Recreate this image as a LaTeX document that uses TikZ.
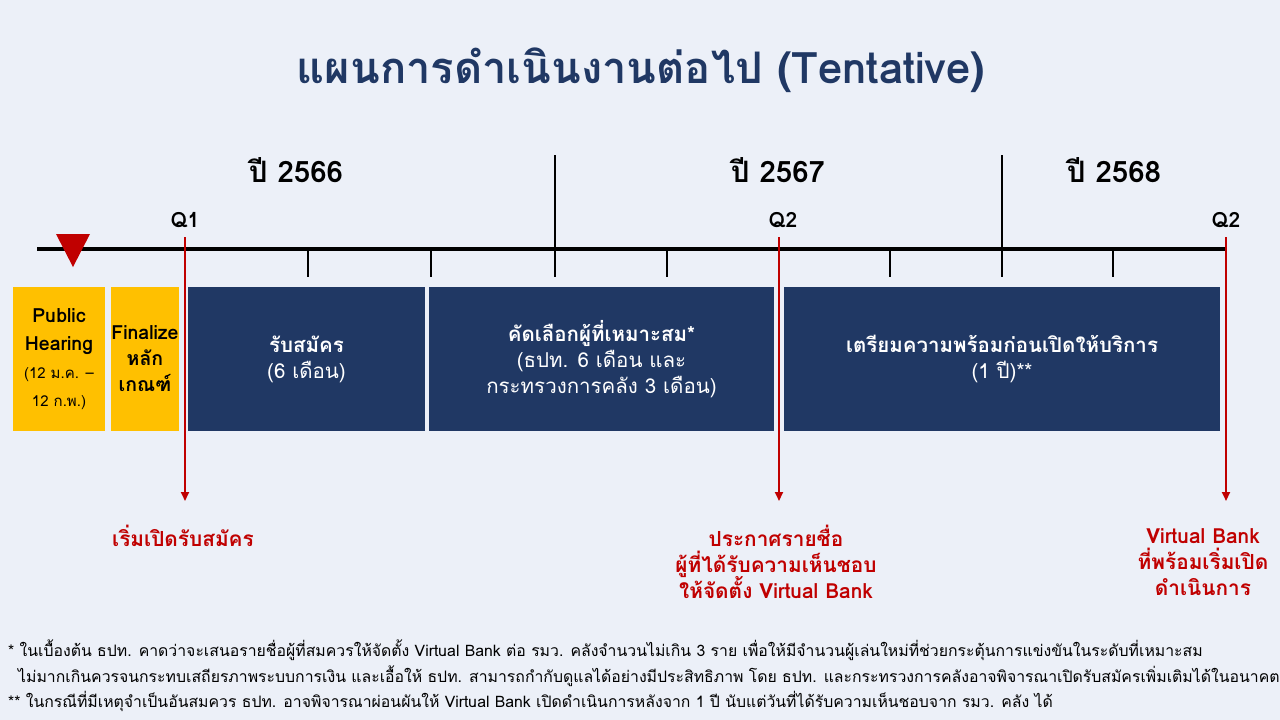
\documentclass[tikz,border=0pt]{standalone}
\usepackage{fontspec}
\setmainfont[Script=Thai]{Loma}
\usetikzlibrary{arrows.meta}
\definecolor{bgc}{RGB}{236,240,248}
\definecolor{navy}{RGB}{32,56,100}
\definecolor{gold}{RGB}{255,192,0}
\definecolor{darkred}{RGB}{192,0,0}
\newcommand{\tightlines}{\lineskiplimit=-20pt\lineskip=0pt}
\tikzset{
  yearlbl/.style={font=\bfseries\fontsize{29.5}{32}\selectfont, text=black},
  qlbl/.style={font=\bfseries\fontsize{21}{23}\selectfont, text=black},
  tick/.style={line width=1.6pt, black},
  goldbox/.style={fill=gold, inner sep=0pt, align=center, text=black},
  navybox/.style={fill=navy, inner sep=0pt, align=center, text=white, font=\tightlines\fontsize{20.5}{26}\selectfont},
  redlbl/.style={text=darkred, align=center, font=\tightlines\bfseries\fontsize{20.8}{26}\selectfont},
  redarrow/.style={darkred, line width=2pt, -{Triangle[length=9pt,width=8pt]}},
  foot/.style={anchor=west, inner sep=0pt, font=\fontsize{15.8}{18}\selectfont, text=black}
}
\begin{document}
\begin{tikzpicture}[x=1pt,y=-1pt]
\fill[bgc] (0,0) rectangle (1280,720);
\useasboundingbox (0,0) rectangle (1280,720);
% title
\node[font=\bfseries\fontsize{43.5}{46}\selectfont, text=navy] (title) at (641,70) {แผนการดำเนินงานต่อไป (Tentative)};
% years
\node[yearlbl] (y66) at (296,170) {ปี 2566};
\node[yearlbl] (y67) at (778,170) {ปี 2567};
\node[yearlbl] (y68) at (1114,170) {ปี 2568};
% timeline
\coordinate (tl0) at (37,249);
\coordinate (tl1) at (1226,249);
\draw[line width=3.5pt, black] (tl0) -- (tl1);
\foreach \x in {308,431,667,890,1113} \draw[tick] (\x,249) -- (\x,277);
\draw[tick] (555,155) -- (555,277);
\draw[tick] (1002,155) -- (1002,277);
% triangle marker
\fill[darkred] (56,234) -- (90,234) -- (73,267) -- cycle;
% Q labels
\node[qlbl] (q1) at (185,220) {Q1};
\node[qlbl] (q2a) at (783,220) {Q2};
\node[qlbl] (q2b) at (1226,220) {Q2};
% boxes
\node[goldbox, minimum width=92pt, minimum height=144pt, font=\tightlines\bfseries\fontsize{19.5}{28}\selectfont] (ph) at (59,359) {Public\\Hearing\\{\mdseries\fontsize{15}{27}\selectfont (12 ม.ค. –}\\{\mdseries\fontsize{15}{25}\selectfont 12 ก.พ.)}};
\node[goldbox, minimum width=68pt, minimum height=144pt, font=\tightlines\bfseries\fontsize{19.5}{26}\selectfont] (fin) at (145,359) {Finalize\\หลัก\\เกณฑ์};
\node[navybox, minimum width=237pt, minimum height=144pt] (reg) at (306.5,359) {{\bfseries รับสมัคร}\\(6 เดือน)};
\node[navybox, minimum width=345pt, minimum height=144pt] (sel) at (601.5,359) {{\bfseries คัดเลือกผู้ที่เหมาะสม*}\\(ธปท. 6 เดือน และ\\กระทรวงการคลัง 3 เดือน)};
\node[navybox, minimum width=436pt, minimum height=144pt] (prep) at (1002,359) {{\bfseries เตรียมความพร้อมก่อนเปิดให้บริการ}\\(1 ปี)**};
% red labels
\node[redlbl] (l1) at (183,536) {เริ่มเปิดรับสมัคร};
\node[redlbl] (l2) at (776,562) {ประกาศรายชื่อ\\ผู้ที่ได้รับความเห็นชอบ\\ให้จัดตั้ง Virtual Bank};
\node[redlbl] (l3) at (1203,562) {Virtual Bank\\ที่พร้อมเริ่มเปิด\\ดำเนินการ};
% red arrows
\coordinate (a1) at (185,237);
\coordinate (a2) at (779,237);
\coordinate (a3) at (1226,237);
\draw[redarrow] (a1) -- (a1 |- 0,501);
\draw[redarrow] (a2) -- (a2 |- 0,501);
\draw[redarrow] (a3) -- (a3 |- 0,501);
% footnotes
\node[foot] (f1) at (8,650) {* ในเบื้องต้น ธปท. คาดว่าจะเสนอรายชื่อผู้ที่สมควรให้จัดตั้ง Virtual Bank ต่อ รมว. คลังจำนวนไม่เกิน 3 ราย เพื่อให้มีจำนวนผู้เล่นใหม่ที่ช่วยกระตุ้นการแข่งขันในระดับที่เหมาะสม};
\node[foot] (f2) at (18,676) {ไม่มากเกินควรจนกระทบเสถียรภาพระบบการเงิน และเอื้อให้ ธปท. สามารถกำกับดูแลได้อย่างมีประสิทธิภาพ โดย ธปท. และกระทรวงการคลังอาจพิจารณาเปิดรับสมัครเพิ่มเติมได้ในอนาคต};
\node[foot] (f3) at (8,701) {** ในกรณีที่มีเหตุจำเป็นอันสมควร ธปท. อาจพิจารณาผ่อนผันให้ Virtual Bank เปิดดำเนินการหลังจาก 1 ปี นับแต่วันที่ได้รับความเห็นชอบจาก รมว. คลัง ได้};
\end{tikzpicture}
\end{document}
